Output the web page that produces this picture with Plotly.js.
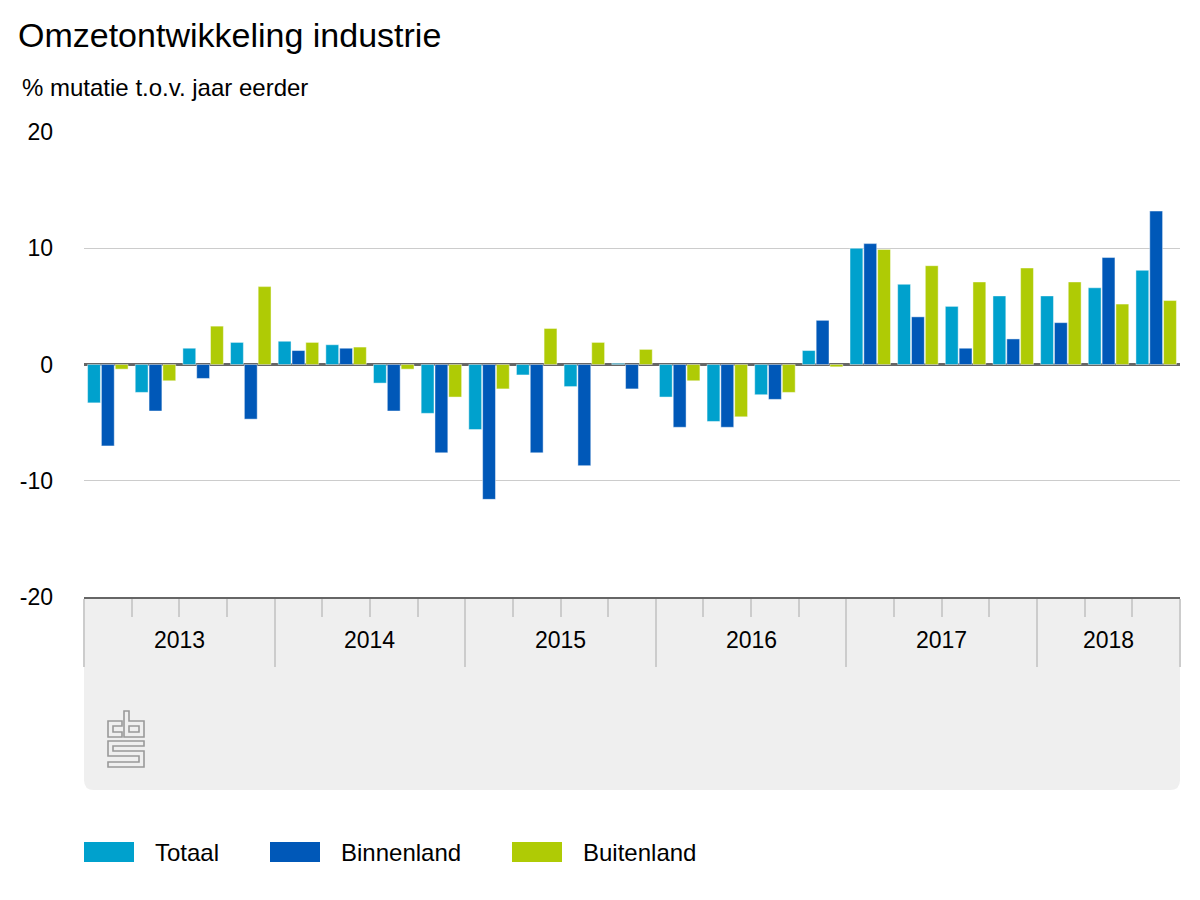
<!DOCTYPE html>
<html>
<head>
<meta charset="utf-8">
<script src="https://cdn.plot.ly/plotly-3.0.1.min.js"></script>
<style>
  html, body { margin: 0; padding: 0; background: #fff; }
  #chart { width: 1200px; height: 900px; }
</style>
</head>
<body>
<div id="chart"></div>
<script>
// ---- Data ----
const quarters = ["2013 K1","2013 K2","2013 K3","2013 K4",
                  "2014 K1","2014 K2","2014 K3","2014 K4",
                  "2015 K1","2015 K2","2015 K3","2015 K4",
                  "2016 K1","2016 K2","2016 K3","2016 K4",
                  "2017 K1","2017 K2","2017 K3","2017 K4",
                  "2018 K1","2018 K2","2018 K3"];
const years = ["2013","2014","2015","2016","2017","2018"];
const seriesNames = ["Totaal", "Binnenland", "Buitenland"];
const totaal     = [-3.3, -2.4, 1.4, 1.9,  2.0, 1.7, -1.6, -4.2,  -5.6, -0.9, -1.9, 0.1,  -2.8, -4.9, -2.6, 1.2,  10.0, 6.9, 5.0, 5.9,  5.9, 6.6, 8.1];
const binnenland = [-7.0, -4.0, -1.2, -4.7, 1.2, 1.4, -4.0, -7.6, -11.6, -7.6, -8.7, -2.1, -5.4, -5.4, -3.0, 3.8,  10.4, 4.1, 1.4, 2.2,  3.6, 9.2, 13.2];
const buitenland = [-0.4, -1.4, 3.3, 6.7,  1.9, 1.5, -0.4, -2.8,  -2.1, 3.1, 1.9, 1.3,   -1.4, -4.5, -2.4, -0.2, 9.9, 8.5, 7.1, 8.3,   7.1, 5.2, 5.5];
const yTicks = [-20, -10, 0, 10, 20];

// ---- Styling ----
const colors = ["#00a1cd", "#0058b8", "#afcb05"];
const FONT = "Liberation Sans, Arial, sans-serif";
const W = 1200, H = 900;
const M = {l: 84, r: 20, t: 132, b: 303};
const PW = W - M.l - M.r, PH = H - M.t - M.b;
const px2x = p => (p - M.l) / PW;
const px2y = p => (H - M.b - p) / PH;

const xIdx = quarters.map((q, i) => i);
const qYear = quarters.map(q => q.split(" ")[0]);

const values = [totaal, binnenland, buitenland];
const traces = values.map((v, s) => ({
  type: "bar",
  x: xIdx,
  y: v,
  name: seriesNames[s],
  marker: {color: colors[s], line: {color: "rgba(255,255,255,0.45)", width: 1}},
  hoverinfo: "skip",
  showlegend: false
}));

// year boundaries & centers derived from data
const yearStart = years.map(y => qYear.indexOf(y));
const yearEnd = years.map(y => qYear.lastIndexOf(y));
const majorVals = yearStart.map(i => i - 0.5).concat([quarters.length - 0.5]);
const minorVals = xIdx.map(i => i - 0.5);
const yearCenters = years.map((y, k) => (yearStart[k] + yearEnd[k]) / 2);

const annotations = [];
// subtitle
annotations.push({
  text: "% mutatie t.o.v. jaar eerder", xref: "paper", yref: "paper",
  x: px2x(20), y: px2y(88), xanchor: "left", yanchor: "middle",
  showarrow: false, font: {family: FONT, size: 24, color: "#000"}
});
// year labels
years.forEach((y, k) => annotations.push({
  text: y, xref: "x", yref: "paper", x: yearCenters[k], y: px2y(640),
  xanchor: "center", yanchor: "middle", showarrow: false,
  font: {family: FONT, size: 23, color: "#000"}
}));

const shapes = [];
// grey band under x axis with rounded bottom corners
const bx0 = 0, bx1 = 1, by0 = 0, by1 = px2y(790);
const rx = 10 / PW, ry = 10 / PH;
shapes.push({
  type: "path", xref: "paper", yref: "paper", layer: "below",
  path: `M ${bx0},${by0} L ${bx0},${by1 + ry} Q ${bx0},${by1} ${bx0 + rx},${by1} L ${bx1 - rx},${by1} Q ${bx1},${by1} ${bx1},${by1 + ry} L ${bx1},${by0} Z`,
  fillcolor: "#efefef", line: {width: 0}
});

// legend
const legendX = [84, 270, 512];
seriesNames.forEach((n, s) => {
  shapes.push({
    type: "rect", xref: "paper", yref: "paper",
    x0: px2x(legendX[s]), x1: px2x(legendX[s] + 50),
    y0: px2y(862), y1: px2y(842),
    fillcolor: colors[s], line: {width: 0}
  });
  annotations.push({
    text: n, xref: "paper", yref: "paper",
    x: px2x(legendX[s] + 69), y: px2y(852), xanchor: "left", yanchor: "middle",
    showarrow: false, font: {family: FONT, size: 24, color: "#000"}
  });
});

// cbs logo as svg
const logoSvg = `<svg xmlns="http://www.w3.org/2000/svg" width="38" height="58" viewBox="-1 -1 38 58">
<g fill="none" stroke="#999" stroke-width="1.6" stroke-linejoin="miter">
<path d="M14,10 H0 V26 H14 V21 H5 V15 H14 Z"/>
<path d="M16,0 H21 V10 H36 V26 H16 Z"/>
<path d="M21,15 H31 V21 H21 Z"/>
<path d="M0,30 H36 V35 H5 V40 H36 V56 H0 V51 H31 V45 H0 Z"/>
</g></svg>`;
const images = [{
  source: "data:image/svg+xml;charset=utf-8," + encodeURIComponent(logoSvg),
  xref: "paper", yref: "paper",
  x: px2x(107), y: px2y(710), sizex: 38 / PW, sizey: 58 / PH,
  xanchor: "left", yanchor: "top", sizing: "stretch", layer: "above"
}];

const layout = {
  width: W, height: H,
  margin: M,
  paper_bgcolor: "#fff", plot_bgcolor: "rgba(0,0,0,0)",
  font: {family: FONT, size: 23, color: "#000"},
  title: {
    text: "Omzetontwikkeling industrie",
    x: 18 / W, xanchor: "left", xref: "container",
    y: 1 - 35 / H, yanchor: "middle", yref: "container",
    font: {family: FONT, size: 34, color: "#000"}
  },
  barmode: "group",
  bargap: 0.13,
  bargroupgap: 0.07,
  showlegend: false,
  xaxis: {
    range: [-0.5, quarters.length - 0.5],
    tickmode: "array", tickvals: majorVals,
    showticklabels: false,
    ticks: "outside", ticklen: 68, tickwidth: 2, tickcolor: "#cccccc",
    minor: {tickmode: "array", tickvals: minorVals, ticks: "outside", ticklen: 18, tickwidth: 2, tickcolor: "#cccccc"},
    showgrid: false, zeroline: false,
    showline: true, linecolor: "#666666", linewidth: 2
  },
  yaxis: {
    range: [-20, 20],
    tickmode: "array", tickvals: yTicks, ticktext: yTicks.map(String),
    showgrid: true, gridcolor: "#cccccc", gridwidth: 1,
    zeroline: true, zerolinecolor: "#666666", zerolinewidth: 3,
    ticks: "", ticklabelstandoff: 30,
    tickfont: {family: FONT, size: 23, color: "#000"},
    showline: false
  },
  annotations: annotations,
  shapes: shapes,
  images: images
};

Plotly.newPlot("chart", traces, layout, {staticPlot: true, displayModeBar: false});
</script>
</body>
</html>
